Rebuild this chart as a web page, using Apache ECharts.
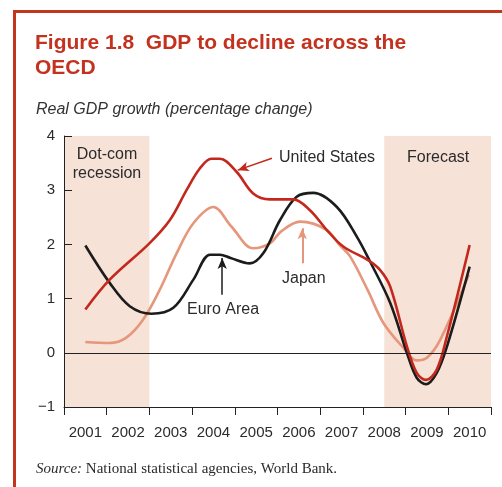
<!DOCTYPE html>
<html lang="en">

<head>
    <meta charset="UTF-8">
    <title>GDP to decline across the OECD</title>
    <style>
        html, body {
            margin: 0;
            padding: 0;
            background: #fff;
        }

        #chart {
            width: 502px;
            height: 487px;
        }
    </style>
</head>

<body>
    <div id="chart"></div>
</body>
<script type="text/javascript" src="https://cdn.jsdelivr.net/npm/echarts@6/dist/echarts.min.js"></script>
<script type="text/javascript">
    // year labels under the axis
    const years = ['2001', '2002', '2003', '2004', '2005', '2006', '2007', '2008', '2009', '2010']

    // United States (time, % change)
    const usT = [2001.5, 2002.07, 2003.0, 2003.48, 2003.87, 2004.18, 2004.45, 2004.65, 2005.04, 2005.43, 2005.82, 2006.37, 2006.76, 2007.15, 2007.54, 2008.12, 2008.40, 2008.64, 2009.03, 2009.26, 2009.48, 2009.73, 2009.97, 2010.5]
    const usV = [0.80, 1.35, 2.02, 2.45, 3.00, 3.40, 3.58, 3.58, 3.34, 2.94, 2.83, 2.83, 2.63, 2.27, 1.96, 1.71, 1.53, 1.22, 0.12, -0.37, -0.50, -0.31, 0.31, 1.99]

    // Euro Area
    const euroT = [2001.5, 2002.07, 2002.54, 2003.05, 2003.56, 2004.03, 2004.42, 2004.65, 2004.9, 2005.35, 2005.67, 2006.06, 2006.45, 2006.84, 2007.39, 2007.86, 2008.17, 2008.64, 2009.03, 2009.26, 2009.48, 2009.73, 2009.97, 2010.5]
    const euroV = [1.98, 1.29, 0.86, 0.72, 0.83, 1.35, 1.81, 1.81, 1.75, 1.65, 1.84, 2.45, 2.88, 2.95, 2.69, 2.14, 1.68, 0.92, 0.00, -0.46, -0.58, -0.37, 0.12, 1.59]

    // Japan
    const japanT = [2001.5, 2002.07, 2002.46, 2002.85, 2003.24, 2003.64, 2004.03, 2004.5, 2004.92, 2005.43, 2005.82, 2006.1, 2006.53, 2007.15, 2007.46, 2007.70, 2008.11, 2008.48, 2008.95, 2009.26, 2009.5, 2009.81, 2010.48]
    const japanV = [0.20, 0.18, 0.28, 0.61, 1.16, 1.84, 2.39, 2.69, 2.33, 1.93, 2.02, 2.25, 2.42, 2.27, 1.98, 1.78, 1.16, 0.55, 0.09, -0.14, -0.09, 0.24, 1.44]

    // shaded periods
    const dotcom = [2001, 2003]
    const forecast = [2008.5, 2011]

    const red = '#c4281c'
    const black = '#1c1c1c'
    const salmon = '#e6967b'
    const txt = '#2b2b2b'
    const sans = 'Liberation Sans, Arial, sans-serif'

    function pairs(t, v) {
        return t.map((x, i) => [x, v[i]])
    }

    let chartDom = document.getElementById('chart');
    let myChart = echarts.init(chartDom);
    let option;

    const lineBase = {
        type: 'line',
        xAxisIndex: 0,
        smooth: 0.35,
        symbol: 'none',
        silent: true,
        animation: false
    }

    // annotation arrow in data coordinates
    function arrow(from, to, color, width) {
        return [
            { coord: from, symbol: 'none', lineStyle: { color: color, width: width, type: 'solid' } },
            { coord: to, symbol: 'arrow', symbolSize: [7, 11] }
        ]
    }

    option = {
        animation: false,
        textStyle: { fontFamily: sans },
        title: [{
            text: 'Figure 1.8  GDP to decline across the\nOECD',
            left: 30,
            top: 26,
            textStyle: {
                color: '#c3321f',
                fontSize: 21,
                fontWeight: 'bold',
                lineHeight: 25
            }
        }, {
            text: 'Real GDP growth (percentage change)',
            left: 31,
            top: 97,
            textStyle: {
                color: '#333',
                fontSize: 16,
                fontStyle: 'italic',
                fontWeight: 'normal'
            }
        }],
        grid: {
            left: 64,
            right: 11,
            top: 136,
            bottom: 80
        },
        xAxis: [{
            type: 'value',
            z: 10,
            min: 2001,
            max: 2011,
            interval: 1,
            axisLine: { onZero: false, lineStyle: { color: '#222', width: 1 } },
            axisTick: { inside: false, length: 8, lineStyle: { color: '#222' } },
            axisLabel: { show: false },
            splitLine: { show: false }
        }, {
            type: 'category',
            position: 'bottom',
            data: years,
            boundaryGap: true,
            axisLine: { show: false, onZero: false },
            axisTick: { show: false },
            axisLabel: { color: txt, fontSize: 15, margin: 18, interval: 0 }
        }],
        yAxis: {
            type: 'value',
            z: 10,
            min: -1,
            max: 4,
            interval: 1,
            axisLine: { show: true, onZero: false, lineStyle: { color: '#222', width: 1 } },
            axisTick: { show: true, inside: true, length: 8, lineStyle: { color: '#222' } },
            axisLabel: {
                color: txt,
                fontSize: 15,
                margin: 9,
                formatter: v => String(v).replace('-', '\u2212')
            },
            splitLine: { show: false }
        },
        series: [
            Object.assign({}, lineBase, {
                name: 'Japan',
                data: pairs(japanT, japanV),
                lineStyle: { color: salmon, width: 2.6 },
                markArea: {
                    silent: true,
                    itemStyle: { color: '#f6e2d7' },
                    data: [
                        [{ xAxis: dotcom[0] }, { xAxis: dotcom[1] }],
                        [{ xAxis: forecast[0] }, { xAxis: forecast[1] }]
                    ]
                },
                markLine: {
                    silent: true,
                    animation: false,
                    symbol: 'none',
                    label: { show: false },
                    data: [
                        { yAxis: 0, lineStyle: { color: '#222', width: 1, type: 'solid' } },
                        arrow([2006.58, 1.65], [2006.58, 2.30], salmon, 2)
                    ]
                }
            }),
            Object.assign({}, lineBase, {
                name: 'Euro Area',
                data: pairs(euroT, euroV),
                lineStyle: { color: black, width: 2.6 },
                markLine: {
                    silent: true,
                    animation: false,
                    symbol: 'none',
                    label: { show: false },
                    data: [arrow([2004.705, 1.07], [2004.705, 1.75], black, 1.5)]
                }
            }),
            Object.assign({}, lineBase, {
                name: 'United States',
                data: pairs(usT, usV),
                lineStyle: { color: red, width: 2.6 },
                markLine: {
                    silent: true,
                    animation: false,
                    symbol: 'none',
                    label: { show: false },
                    data: [arrow([2005.87, 3.59], [2005.07, 3.37], red, 1.5)]
                }
            })
        ],
        graphic: [
            // red frame
            { type: 'rect', z: 100, shape: { x: 13, y: 10, width: 489, height: 3 }, style: { fill: '#c4351f' }, silent: true },
            { type: 'rect', z: 100, shape: { x: 13, y: 10, width: 3, height: 477 }, style: { fill: '#c4351f' }, silent: true },
            // annotations
            { type: 'text', z: 100, x: 107, y: 145, style: { text: 'Dot-com\nrecession', fill: txt, font: '16px ' + sans, align: 'center', lineHeight: 19 } },
            { type: 'text', z: 100, left: 407, top: 150, style: { text: 'Forecast', fill: txt, font: '16px ' + sans } },
            { type: 'text', z: 100, left: 279, top: 150, style: { text: 'United States', fill: txt, font: '16px ' + sans } },
            { type: 'text', z: 100, left: 187, top: 302, style: { text: 'Euro Area', fill: txt, font: '16px ' + sans } },
            { type: 'text', z: 100, left: 282, top: 271, style: { text: 'Japan', fill: txt, font: '16px ' + sans } },
            // source line
            {
                type: 'text', z: 100, left: 36, top: 462,
                style: {
                    text: '{i|Source:} National statistical agencies, World Bank.',
                    fill: txt,
                    font: '15px Liberation Serif, Times New Roman, serif',
                    rich: {
                        i: { fontStyle: 'italic', fontFamily: 'Liberation Serif, Times New Roman, serif', fontSize: 15, fill: txt }
                    }
                }
            }
        ]
    };

    option && myChart.setOption(option);
</script>

</html>
